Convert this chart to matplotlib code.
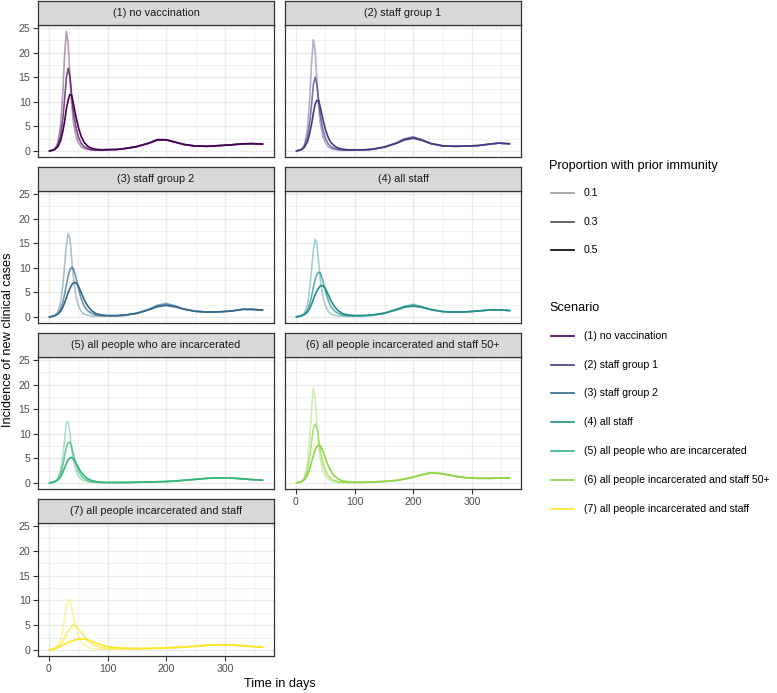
import matplotlib
matplotlib.use("Agg")
import matplotlib.pyplot as plt
from matplotlib.lines import Line2D

plt.rcParams['font.family'] = ['Liberation Sans', 'DejaVu Sans']

# ---- data ----
days = [0, 5, 10, 15, 20, 24, 27, 30, 33, 36, 39, 42, 46, 50, 55, 60, 66, 72, 80, 90,
        100, 115, 130, 150, 170, 185, 200, 215, 230, 250, 270, 290, 310, 330, 345, 365]

scenarios = ["(1) no vaccination", "(2) staff group 1", "(3) staff group 2", "(4) all staff",
             "(5) all people who are incarcerated", "(6) all people incarcerated and staff 50+",
             "(7) all people incarcerated and staff"]
immunity = ["0.1", "0.3", "0.5"]

s1_01 = [0, 0.1, 0.4, 1.5, 5, 12, 19.5, 24.3, 22, 15.5, 9.5, 5.8, 3.2, 1.8, 0.9, 0.5, 0.3, 0.2, 0.15, 0.15,
         0.2, 0.3, 0.5, 0.9, 1.6, 2.35, 2.3, 1.8, 1.3, 1.0, 0.95, 1.1, 1.25, 1.45, 1.5, 1.4]
s1_03 = [0, 0.1, 0.3, 1.0, 3, 6.5, 10.5, 14.8, 16.8, 15.2, 11.5, 8, 5, 3, 1.6, 0.9, 0.5, 0.3, 0.2, 0.2,
         0.25, 0.3, 0.5, 0.9, 1.6, 2.3, 2.3, 1.8, 1.3, 1.0, 0.95, 1.1, 1.25, 1.45, 1.5, 1.4]
s1_05 = [0, 0.1, 0.3, 0.8, 2, 4, 6, 8.5, 10.3, 11.5, 11.3, 9.6, 7.2, 5, 3, 1.8, 1.0, 0.6, 0.35, 0.25,
         0.3, 0.3, 0.5, 0.9, 1.55, 2.25, 2.25, 1.8, 1.35, 1.0, 0.95, 1.1, 1.25, 1.45, 1.5, 1.4]

s2_01 = [0, 0.1, 0.4, 1.4, 4.6, 11, 18, 22.6, 20.5, 14.5, 9, 5.5, 3, 1.7, 0.9, 0.5, 0.3, 0.2, 0.15, 0.15,
         0.15, 0.2, 0.35, 0.8, 1.6, 2.5, 2.9, 2.3, 1.5, 1.05, 0.95, 1.0, 1.1, 1.4, 1.6, 1.45]
s2_03 = [0, 0.1, 0.3, 0.9, 2.8, 6, 9.5, 13.5, 15, 13.5, 10.3, 7.2, 4.5, 2.7, 1.5, 0.85, 0.5, 0.3, 0.2, 0.2,
         0.2, 0.2, 0.35, 0.8, 1.55, 2.4, 2.8, 2.25, 1.5, 1.05, 0.95, 1.0, 1.1, 1.4, 1.6, 1.45]
s2_05 = [0, 0.1, 0.3, 0.8, 1.9, 3.7, 5.5, 7.7, 9.5, 10.3, 10.2, 8.8, 6.6, 4.6, 2.8, 1.7, 1.0, 0.6, 0.35, 0.25,
         0.25, 0.25, 0.35, 0.75, 1.5, 2.25, 2.6, 2.15, 1.5, 1.05, 0.95, 1.0, 1.1, 1.4, 1.6, 1.45]

s3_01 = [0, 0.1, 0.3, 0.9, 2.8, 6.5, 10.5, 14.5, 17, 16, 12, 8, 4.5, 2.5, 1.2, 0.6, 0.35, 0.2, 0.15, 0.15,
         0.15, 0.2, 0.35, 0.8, 1.6, 2.4, 2.8, 2.3, 1.6, 1.15, 1.0, 1.05, 1.2, 1.55, 1.55, 1.4]
s3_03 = [0, 0.1, 0.25, 0.6, 1.5, 3, 4.6, 6.5, 8.3, 9.6, 10.1, 9.8, 8.2, 6, 3.8, 2.3, 1.3, 0.8, 0.4, 0.25,
         0.25, 0.25, 0.35, 0.75, 1.5, 2.3, 2.6, 2.2, 1.6, 1.15, 1.0, 1.05, 1.2, 1.55, 1.55, 1.4]
s3_05 = [0, 0.1, 0.25, 0.55, 1.1, 2, 2.9, 3.9, 4.9, 5.8, 6.5, 6.9, 7.0, 6.4, 5, 3.6, 2.3, 1.4, 0.7, 0.4,
         0.3, 0.3, 0.4, 0.75, 1.45, 2.1, 2.35, 2.05, 1.6, 1.15, 1.0, 1.05, 1.2, 1.55, 1.55, 1.4]

s4_01 = [0, 0.1, 0.3, 0.9, 2.6, 6, 9.8, 13.5, 15.8, 15, 11.3, 7.5, 4.3, 2.4, 1.2, 0.6, 0.35, 0.2, 0.15, 0.15,
         0.15, 0.2, 0.35, 0.8, 1.55, 2.2, 2.6, 2.1, 1.5, 1.1, 1.0, 1.05, 1.2, 1.45, 1.45, 1.3]
s4_03 = [0, 0.1, 0.25, 0.6, 1.4, 2.8, 4.2, 6, 7.6, 8.7, 9.1, 8.9, 7.5, 5.5, 3.5, 2.1, 1.2, 0.75, 0.4, 0.25,
         0.25, 0.25, 0.35, 0.75, 1.45, 2.1, 2.4, 2.05, 1.5, 1.1, 1.0, 1.05, 1.2, 1.45, 1.45, 1.3]
s4_05 = [0, 0.1, 0.25, 0.5, 1.0, 1.8, 2.6, 3.6, 4.5, 5.3, 5.9, 6.3, 6.4, 5.9, 4.6, 3.3, 2.1, 1.3, 0.65, 0.4,
         0.3, 0.3, 0.4, 0.75, 1.4, 2.0, 2.2, 1.95, 1.5, 1.1, 1.0, 1.05, 1.2, 1.45, 1.45, 1.3]

s5_01 = [0, 0.1, 0.3, 0.8, 2.5, 5.5, 8.8, 12.2, 12.4, 10.2, 7, 4.5, 2.6, 1.5, 0.8, 0.45, 0.25, 0.15, 0.1, 0.1,
         0.1, 0.1, 0.1, 0.15, 0.2, 0.25, 0.3, 0.4, 0.55, 0.75, 0.95, 1.05, 1.0, 0.85, 0.7, 0.55]
s5_03 = [0, 0.1, 0.25, 0.7, 1.8, 3.6, 5.5, 7.3, 8.2, 8.3, 7.3, 5.8, 4, 2.6, 1.5, 0.9, 0.5, 0.3, 0.15, 0.1,
         0.1, 0.1, 0.1, 0.15, 0.2, 0.25, 0.3, 0.4, 0.55, 0.75, 0.95, 1.05, 1.0, 0.85, 0.7, 0.55]
s5_05 = [0, 0.1, 0.25, 0.55, 1.2, 2.2, 3.1, 4.0, 4.7, 5.1, 5.2, 4.9, 4.1, 3.2, 2.2, 1.5, 0.9, 0.55, 0.3, 0.15,
         0.1, 0.1, 0.1, 0.15, 0.2, 0.25, 0.3, 0.4, 0.55, 0.75, 0.95, 1.05, 1.0, 0.85, 0.7, 0.55]

s6_01 = [0, 0.1, 0.35, 1.2, 4, 9.5, 15, 19.3, 17.5, 12.5, 7.8, 4.7, 2.6, 1.5, 0.8, 0.45, 0.25, 0.15, 0.1, 0.1,
         0.1, 0.15, 0.2, 0.3, 0.5, 0.8, 1.2, 1.7, 2.15, 1.9, 1.4, 1.05, 0.95, 0.95, 1.0, 1.0]
s6_03 = [0, 0.1, 0.3, 0.9, 2.5, 5.4, 8.5, 11, 12, 11.2, 9, 6.6, 4.2, 2.6, 1.5, 0.85, 0.5, 0.3, 0.15, 0.1,
         0.1, 0.15, 0.2, 0.3, 0.5, 0.8, 1.2, 1.7, 2.1, 1.9, 1.4, 1.05, 0.95, 0.95, 1.0, 1.0]
s6_05 = [0, 0.1, 0.25, 0.65, 1.6, 3, 4.3, 5.6, 6.7, 7.4, 7.7, 7.5, 6.6, 5.2, 3.6, 2.4, 1.4, 0.85, 0.4, 0.2,
         0.15, 0.15, 0.2, 0.3, 0.5, 0.8, 1.2, 1.65, 2.05, 1.85, 1.4, 1.05, 0.95, 0.95, 1.0, 1.0]

s7_01 = [0, 0.1, 0.3, 0.8, 2, 4.2, 6.5, 8.8, 10.1, 10.2, 8.8, 6.8, 4.6, 3, 1.7, 1.0, 0.55, 0.3, 0.2, 0.15,
         0.15, 0.2, 0.25, 0.25, 0.3, 0.35, 0.4, 0.5, 0.6, 0.75, 0.95, 1.05, 1.0, 0.85, 0.7, 0.55]
s7_03 = [0, 0.1, 0.25, 0.55, 1.1, 1.8, 2.5, 3.2, 3.8, 4.4, 4.8, 5.0, 4.9, 4.4, 3.6, 2.8, 2.0, 1.4, 0.8, 0.45,
         0.3, 0.25, 0.25, 0.25, 0.3, 0.35, 0.4, 0.5, 0.6, 0.75, 0.95, 1.05, 1.0, 0.85, 0.7, 0.55]
s7_05 = [0, 0.1, 0.25, 0.45, 0.7, 0.95, 1.15, 1.35, 1.5, 1.65, 1.8, 1.9, 2.05, 2.15, 2.2, 2.2, 2.05, 1.8, 1.4, 0.95,
         0.65, 0.45, 0.35, 0.3, 0.3, 0.35, 0.4, 0.5, 0.6, 0.75, 0.95, 1.05, 1.0, 0.85, 0.7, 0.55]

curves = [
    [s1_01, s1_03, s1_05], [s2_01, s2_03, s2_05], [s3_01, s3_03, s3_05], [s4_01, s4_03, s4_05],
    [s5_01, s5_03, s5_05], [s6_01, s6_03, s6_05], [s7_01, s7_03, s7_05],
]

# viridis, 7 levels
colors = ["#440154", "#443A83", "#31688E", "#21908C", "#35B779", "#8FD744", "#FDE725"]
alphas = [0.4, 0.7, 1.0]

# ---- layout (pixels of the 777x693 image) ----
W, H = 777, 693
fig = plt.figure(figsize=(W / 100, H / 100), dpi=100)


def box(x0, y0, x1, y1):
    return [x0 / W, 1 - y1 / H, (x1 - x0) / W, (y1 - y0) / H]


col_x = [(38, 274), (285, 521)]
row_y = [(25, 157), (191, 323), (357, 489), (523, 656)]
strip_h = 24
dark = "#333333"
grid = "#EBEBEB"

for i, name in enumerate(scenarios):
    r, c = divmod(i, 2)
    x0, x1 = col_x[c]
    y0, y1 = row_y[r]
    ax = fig.add_axes(box(x0, y0, x1, y1))
    for k in range(3):
        ax.plot(days, curves[i][k], color=colors[i], alpha=alphas[k], lw=1.2, solid_capstyle="butt")
    ax.set_xlim(-18.25, 383.25)
    ax.set_ylim(-1.22, 25.6)
    ax.set_xticks([0, 100, 200, 300])
    ax.set_xticks([50, 150, 250, 350], minor=True)
    ax.set_yticks([0, 5, 10, 15, 20, 25])
    ax.set_yticks([2.5, 7.5, 12.5, 17.5, 22.5], minor=True)
    ax.grid(True, which="major", color=grid, lw=1.0)
    ax.grid(True, which="minor", color=grid, lw=0.5)
    ax.set_axisbelow(True)
    for sp in ax.spines.values():
        sp.set_color(dark)
        sp.set_linewidth(0.9)
    ax.tick_params(which="minor", length=0)
    ax.tick_params(which="major", color=dark, length=3.5, width=0.8,
                   labelsize=7.6, labelcolor="#4D4D4D", pad=2)
    if c != 0:
        ax.tick_params(axis="y", left=False, labelleft=False)
    if i not in (5, 6):
        ax.tick_params(axis="x", bottom=False, labelbottom=False)

    sax = fig.add_axes(box(x0, y0 - strip_h, x1, y0))
    sax.set_facecolor("#D9D9D9")
    sax.set_xticks([])
    sax.set_yticks([])
    for sp in sax.spines.values():
        sp.set_color(dark)
        sp.set_linewidth(0.9)
    sax.text(0.5, 0.5, name, ha="center", va="center", fontsize=7.8, color="#1A1A1A",
             transform=sax.transAxes)

fig.text(8 / W, 1 - 340 / H, "Incidence of new clinical cases", rotation=90,
         ha="center", va="center", fontsize=9.2, color="black")
fig.text(280 / W, 1 - 684 / H, "Time in days", ha="center", va="center",
         fontsize=9.2, color="black")

# ---- legends ----
lax = fig.add_axes([0, 0, 1, 1], facecolor="none")
lax.set_xlim(0, W)
lax.set_ylim(H, 0)
lax.axis("off")

lax.text(549, 166, "Proportion with prior immunity", ha="left", va="center",
         fontsize=9.2, color="black")
imm_y = [193, 222, 250]
for k, lab in enumerate(immunity):
    lax.add_line(Line2D([551, 574], [imm_y[k], imm_y[k]], color="black", alpha=alphas[k], lw=1.2))
    lax.text(584, imm_y[k], lab, ha="left", va="center", fontsize=7.6, color="black")

lax.text(549, 308, "Scenario", ha="left", va="center", fontsize=9.2, color="black")
scen_y = [336, 365, 393, 422, 451, 480, 509]
for i, lab in enumerate(scenarios):
    lax.add_line(Line2D([551, 574], [scen_y[i], scen_y[i]], color=colors[i], lw=1.2))
    lax.text(584, scen_y[i], lab, ha="left", va="center", fontsize=7.6, color="black")

fig.savefig("out.png", dpi=100)
